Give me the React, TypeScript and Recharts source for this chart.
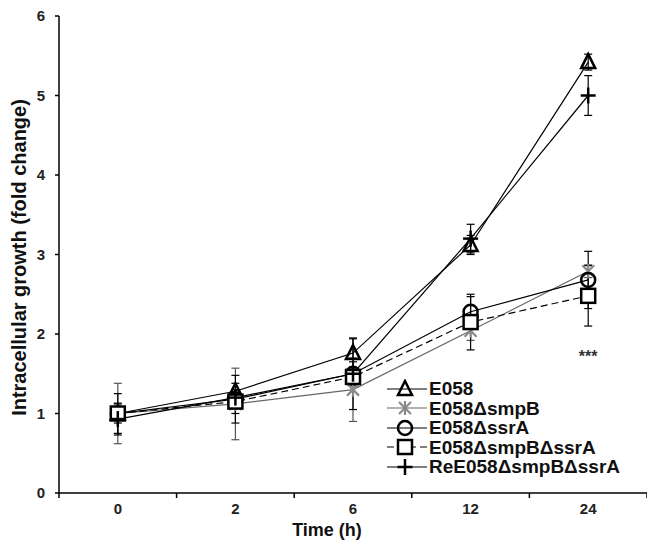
import React from "react";
import {
  LineChart,
  Line,
  XAxis,
  YAxis,
  ErrorBar,
  Legend,
  Label,
  ReferenceDot,
} from "recharts";

const times = ["0", "2", "6", "12", "24"];
const e058 = [1.0, 1.28, 1.76, 3.12, 5.42];
const e058Err = [0.08, 0.1, 0.18, 0.12, 0.1];
const smpB = [1.0, 1.12, 1.3, 2.04, 2.79];
const smpBErr = [0.38, 0.45, 0.4, 0.12, 0.08];
const ssrA = [1.0, 1.18, 1.5, 2.28, 2.68];
const ssrAErr = [0.25, 0.3, 0.15, 0.19, 0.36];
const smpBssrA = [1.0, 1.15, 1.46, 2.15, 2.48];
const smpBssrAErr = [0.12, 0.15, 0.1, 0.35, 0.38];
const reE058 = [0.93, 1.2, 1.5, 3.2, 5.0];
const reE058Err = [0.2, 0.1, 0.45, 0.18, 0.25];
const yTicks = [0, 1, 2, 3, 4, 5, 6];
const legendNames = ["E058", "E058ΔsmpB", "E058ΔssrA", "E058ΔsmpBΔssrA", "ReE058ΔsmpBΔssrA"];

const data = times.map((t, i) => ({
  x: i + 0.5,
  e058: e058[i],
  e058Err: e058Err[i],
  smpB: smpB[i],
  smpBErr: smpBErr[i],
  ssrA: ssrA[i],
  ssrAErr: ssrAErr[i],
  dbl: smpBssrA[i],
  dblErr: smpBssrAErr[i],
  re: reE058[i],
  reErr: reE058Err[i],
}));

const FONT = "'Liberation Sans', Arial, sans-serif";
const GRAY = "#8a8a8a";

type P = { cx: number; cy: number };

const Tri = ({ cx, cy }: P) => (
  <path
    d={`M${cx},${cy - 8} L${cx + 7},${cy + 6} L${cx - 7},${cy + 6} Z`}
    fill="none"
    stroke="#000"
    strokeWidth={2.5}
  />
);
const Star = ({ cx, cy }: P) => (
  <g stroke={GRAY} strokeWidth={2.2}>
    <line x1={cx} y1={cy - 7} x2={cx} y2={cy + 7} />
    <line x1={cx - 6} y1={cy - 6} x2={cx + 6} y2={cy + 6} />
    <line x1={cx - 6} y1={cy + 6} x2={cx + 6} y2={cy - 6} />
  </g>
);
const Circ = ({ cx, cy }: P) => (
  <circle cx={cx} cy={cy} r={7} fill="none" stroke="#000" strokeWidth={2.5} />
);
const Sq = ({ cx, cy }: P) => (
  <rect x={cx - 7} y={cy - 7} width={14} height={14} fill="#fff" stroke="#000" strokeWidth={2.5} />
);
const Plus = ({ cx, cy }: P) => (
  <g stroke="#000" strokeWidth={2.5}>
    <line x1={cx - 7.5} y1={cy} x2={cx + 7.5} y2={cy} />
    <line x1={cx} y1={cy - 8} x2={cx} y2={cy + 8} />
  </g>
);

const markers = [Tri, Star, Circ, Sq, Plus];
const lineColors = ["#000", "#666", "#000", "#000", "#000"];
const dashes = [undefined, undefined, undefined, "7 4", undefined];

const dot = (M: (p: P) => React.ReactElement, name: string) => (p: any) => (
  <g key={`${name}-${p.index}`}>
    <M cx={p.cx} cy={p.cy} />
  </g>
);

const XTick = (props: any) => {
  const { x, y, payload } = props;
  const v = payload.value as number;
  if (Number.isInteger(v)) {
    return <line x1={x} x2={x} y1={y} y2={y + 5} stroke="#000" strokeWidth={1.5} />;
  }
  return (
    <text x={x} y={y + 21} textAnchor="middle" fontFamily={FONT} fontWeight="bold" fontSize={15} fill="#222">
      {times[Math.floor(v)]}
    </text>
  );
};

const renderLegend = () => (
  <div style={{ fontFamily: FONT, fontWeight: "bold", fontSize: 19, color: "#111" }}>
    {legendNames.map((n, i) => {
      const M = markers[i];
      return (
        <div key={n} style={{ display: "flex", alignItems: "center", height: 19.5 }}>
          <svg width={44} height={20} style={{ display: "block" }}>
            <line x1={2} x2={42} y1={10} y2={10} stroke={lineColors[i]} strokeWidth={1.2} strokeDasharray={dashes[i]} />
            <M cx={20} cy={10} />
          </svg>
          <span style={{ lineHeight: "19px" }}>{n}</span>
        </div>
      );
    })}
  </div>
);

export default function App() {
  const series = [
    { key: "e058", err: "e058Err", errColor: "#000" },
    { key: "smpB", err: "smpBErr", errColor: "#555" },
    { key: "ssrA", err: "ssrAErr", errColor: "#000" },
    { key: "dbl", err: "dblErr", errColor: "#000" },
    { key: "re", err: "reErr", errColor: "#000" },
  ];
  return (
    <div style={{ position: "absolute", left: 0, top: 0, background: "#fff" }}>
      <LineChart width={647} height={541} data={data} margin={{ top: 16, right: 0, left: 0, bottom: 0 }}>
        <XAxis
          dataKey="x"
          type="number"
          domain={[0, 5]}
          ticks={[0, 0.5, 1, 1.5, 2, 2.5, 3, 3.5, 4, 4.5, 5]}
          interval={0}
          tick={<XTick />}
          tickLine={false}
          tickSize={0}
          tickMargin={0}
          axisLine={{ stroke: "#000", strokeWidth: 1.5 }}
          height={48}
        >
          <Label
            content={(p: any) => {
              const vb = p.viewBox;
              return (
                <text x={327} y={vb.y + 43} textAnchor="middle" fontFamily={FONT} fontWeight="bold" fontSize={18} fill="#111">
                  Time (h)
                </text>
              );
            }}
          />
        </XAxis>
        <YAxis
          type="number"
          domain={[0, 6]}
          ticks={yTicks}
          interval={0}
          width={59}
          tickSize={4}
          tickMargin={10}
          tickLine={{ stroke: "#000", strokeWidth: 1.5 }}
          axisLine={{ stroke: "#000", strokeWidth: 1.5 }}
          tick={{ fontFamily: FONT, fontWeight: "bold", fontSize: 15, fill: "#222" }}
        >
          <Label
            content={(p: any) => {
              const vb = p.viewBox;
              const cx = vb.x + 19;
              const cy = vb.y + vb.height / 2 + 3;
              return (
                <text x={cx} y={cy} transform={`rotate(-90 ${cx} ${cy})`} textAnchor="middle" dominantBaseline="central" fontFamily={FONT} fontWeight="bold" fontSize={20} fill="#111">
                  Intracellular growth (fold change)
                </text>
              );
            }}
          />
        </YAxis>
        {series.map((s, i) => (
          <Line
            key={s.key}
            dataKey={s.key}
            name={legendNames[i]}
            stroke={lineColors[i]}
            strokeWidth={1.2}
            strokeDasharray={dashes[i]}
            dot={dot(markers[i], s.key)}
            activeDot={false}
            isAnimationActive={false}
          >
            <ErrorBar dataKey={s.err} direction="y" width={4} stroke={s.errColor} strokeWidth={1.2} />
          </Line>
        ))}
        <ReferenceDot
          x={4.5}
          y={1.72}
          r={0}
          fill="none"
          stroke="none"
          label={{ value: "***", position: "center", fontFamily: FONT, fontWeight: "bold", fontSize: 16, fill: "#333" }}
        />
        <Legend
          layout="vertical"
          align="center"
          verticalAlign="middle"
          wrapperStyle={{ left: 385, top: 379, width: 262 }}
          content={renderLegend}
        />
      </LineChart>
    </div>
  );
}
